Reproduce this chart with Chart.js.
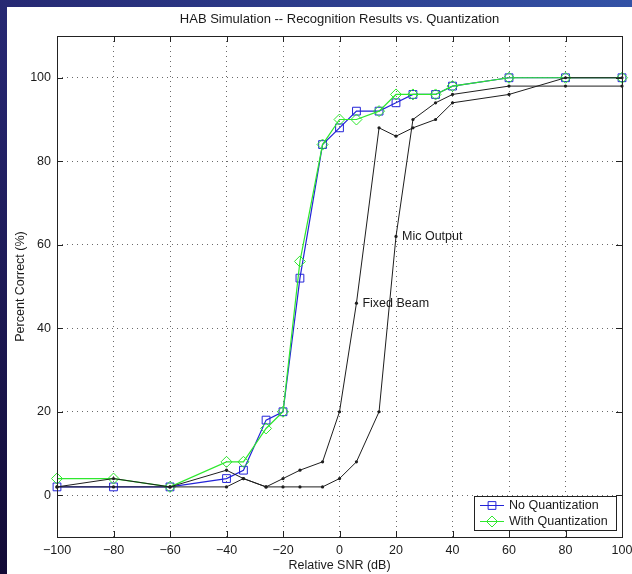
<!DOCTYPE html>
<html>
<head>
<meta charset="utf-8">
<script src="https://cdn.jsdelivr.net/npm/chart.js@4"></script>
<style>
  html, body { margin: 0; padding: 0; background: #1c1850; }
  canvas { display: block; }
</style>
</head>
<body>
<canvas id="c" width="632" height="574"></canvas>
<script>
// ---- data ----
const snr        = [-100, -80, -60, -40, -34, -26, -20, -14, -6, 0, 6, 14, 20, 26, 34, 40, 60, 80, 100];
const noQuant    = [2, 2, 2, 4, 6, 18, 20, 52, 84, 88, 92, 92, 94, 96, 96, 98, 100, 100, 100];
const withQuant  = [4, 4, 2, 8, 8, 16, 20, 56, 84, 90, 90, 92, 96, 96, 96, 98, 100, 100, 100];
const fixedBeam  = [2, 4, 2, 6, 4, 2, 4, 6, 8, 20, 46, 88, 86, 88, 90, 94, 96, 100, 100];
const micOutput  = [2, 2, 2, 2, 4, 2, 2, 2, 2, 4, 8, 20, 62, 90, 94, 96, 98, 98, 98];
const xTicks     = [-100, -80, -60, -40, -20, 0, 20, 40, 60, 80, 100];
const yTicks     = [0, 20, 40, 60, 80, 100];
const titleText  = 'HAB Simulation -- Recognition Results vs. Quantization';
const xLabel     = 'Relative SNR (dB)';
const yLabel     = 'Percent Correct (%)';
const seriesNames = ['No Quantization', 'With Quantization'];
const annotations = [
  { text: 'Fixed Beam', series: 'fixed', x: 6 },
  { text: 'Mic Output', series: 'mic', x: 20 }
];

const FONT = "'Liberation Sans', Arial, Helvetica, sans-serif";
const TXT = '#1a1a1a';
const BLUE = '#2323d8';
const GREEN = '#2ee82e';
const BLACK = '#1e1e1e';
const DIAMOND_R = 5.5;
const SQUARE_R = 5.5;

const pts = ys => snr.map((x, i) => ({ x: x, y: ys[i] }));
const fmt = v => (v < 0 ? '\u2212' + Math.abs(v) : String(v));

const framePlugin = {
  id: 'frame',
  beforeDraw(chart) {
    const ctx = chart.ctx, W = chart.width, H = chart.height;
    ctx.save();
    const g = ctx.createLinearGradient(0, H, W, 0);
    g.addColorStop(0, '#120a35');
    g.addColorStop(0.4, '#25256e');
    g.addColorStop(1, '#3352a6');
    ctx.fillStyle = g;
    ctx.fillRect(0, 0, W, H);
    ctx.fillStyle = '#ffffff';
    ctx.fillRect(7, 7, W - 7, H - 7);
    ctx.restore();
  },
  afterDraw(chart) {
    const ctx = chart.ctx, a = chart.chartArea;
    const xs = chart.scales.x, ys = chart.scales.y;
    ctx.save();
    // box
    ctx.strokeStyle = '#222';
    ctx.lineWidth = 1;
    ctx.strokeRect(Math.round(a.left) + 0.5, Math.round(a.top) + 0.5,
                   Math.round(a.right - a.left), Math.round(a.bottom - a.top));
    // inward ticks
    ctx.beginPath();
    xTicks.forEach(v => {
      const px = Math.round(xs.getPixelForValue(v)) + 0.5;
      ctx.moveTo(px, a.bottom); ctx.lineTo(px, a.bottom - 6);
      ctx.moveTo(px, a.top); ctx.lineTo(px, a.top + 6);
    });
    yTicks.forEach(v => {
      const py = Math.round(ys.getPixelForValue(v)) + 0.5;
      ctx.moveTo(a.left, py); ctx.lineTo(a.left + 6, py);
      ctx.moveTo(a.right, py); ctx.lineTo(a.right - 6, py);
    });
    ctx.stroke();

    // title
    ctx.fillStyle = TXT;
    ctx.font = '13px ' + FONT;
    ctx.textAlign = 'center';
    ctx.textBaseline = 'middle';
    ctx.fillText(titleText, (a.left + a.right) / 2, 19);

    // annotations
    ctx.font = '12.5px ' + FONT;
    ctx.textAlign = 'left';
    annotations.forEach(an => {
      const arr = an.series === 'fixed' ? fixedBeam : micOutput;
      const idx = snr.indexOf(an.x);
      const px = xs.getPixelForValue(an.x);
      const py = ys.getPixelForValue(arr[idx]);
      ctx.fillText(an.text, px + 6, py + 0.5);
    });

    // legend
    const lx = 474, ly = 496, lw = 142, lh = 34;
    ctx.fillStyle = '#fff';
    ctx.fillRect(lx, ly, lw, lh);
    ctx.strokeStyle = '#222';
    ctx.strokeRect(lx + 0.5, ly + 0.5, lw, lh);
    const rows = [
      { name: seriesNames[0], color: BLUE, style: 'rect', r: SQUARE_R, y: ly + 9.5 },
      { name: seriesNames[1], color: GREEN, style: 'rectRot', r: DIAMOND_R, y: ly + 25.5 }
    ];
    rows.forEach(row => {
      ctx.strokeStyle = row.color;
      ctx.lineWidth = 1;
      ctx.beginPath();
      ctx.moveTo(480, row.y); ctx.lineTo(504, row.y);
      ctx.stroke();
      ctx.fillStyle = 'rgba(0,0,0,0)';
      Chart.helpers.drawPoint(ctx, { pointStyle: row.style, radius: row.r, borderWidth: 1, rotation: 0 }, 492, row.y);
      ctx.fillStyle = TXT;
      ctx.font = '12.5px ' + FONT;
      ctx.textAlign = 'left';
      ctx.textBaseline = 'middle';
      ctx.fillText(row.name, 509, row.y + 0.5);
    });
    ctx.restore();
  }
};

const tickFont = { family: FONT, size: 12.5 };

new Chart(document.getElementById('c'), {
  type: 'line',
  data: {
    datasets: [
      { label: 'Fixed Beam', data: pts(fixedBeam), borderColor: BLACK, borderWidth: 1,
        pointRadius: 1.6, pointBackgroundColor: BLACK, pointBorderColor: BLACK, pointBorderWidth: 0,
        tension: 0, clip: false, order: 0 },
      { label: 'Mic Output', data: pts(micOutput), borderColor: BLACK, borderWidth: 1,
        pointRadius: 1.6, pointBackgroundColor: BLACK, pointBorderColor: BLACK, pointBorderWidth: 0,
        tension: 0, clip: false, order: 0 },
      { label: seriesNames[1], data: pts(withQuant), borderColor: GREEN, borderWidth: 1.2,
        pointStyle: 'rectRot', pointRadius: DIAMOND_R, pointBorderColor: GREEN, pointBorderWidth: 1,
        pointBackgroundColor: 'rgba(0,0,0,0)', tension: 0, clip: false, order: 1 },
      { label: seriesNames[0], data: pts(noQuant), borderColor: BLUE, borderWidth: 1.2,
        pointStyle: 'rect', pointRadius: SQUARE_R, pointBorderColor: BLUE, pointBorderWidth: 1,
        pointBackgroundColor: 'rgba(0,0,0,0)', tension: 0, clip: false, order: 2 }
    ]
  },
  options: {
    responsive: false,
    animation: false,
    events: [],
    layout: { padding: { top: 36, right: 10, left: 0, bottom: 0 } },
    plugins: { legend: { display: false }, title: { display: false }, tooltip: { enabled: false } },
    scales: {
      x: {
        type: 'linear', min: -100, max: 100,
        afterBuildTicks(s) { s.ticks = xTicks.map(v => ({ value: v })); },
        afterFit(s) { s.height = 37; s.paddingLeft = 0; s.paddingRight = 0; },
        ticks: { padding: 6, color: TXT, font: tickFont, maxRotation: 0, autoSkip: false,
                 callback: v => fmt(v) },
        grid: { color: '#6a6a6a', lineWidth: 1, drawTicks: false, borderDash: [1, 4] },
        border: { display: false, dash: [1, 4] },
        title: { display: true, text: xLabel, color: TXT, font: tickFont, padding: { top: 0, bottom: 0.5 } }
      },
      y: {
        type: 'linear', min: -10, max: 110,
        afterBuildTicks(s) { s.ticks = yTicks.map(v => ({ value: v })); },
        afterFit(s) { s.width = 57; s.paddingTop = 0; s.paddingBottom = 0; },
        ticks: { padding: 6, color: TXT, font: tickFont, callback: v => fmt(v) },
        grid: { color: '#6a6a6a', lineWidth: 1, drawTicks: false, borderDash: [1, 4] },
        border: { display: false, dash: [1, 4] },
        title: { display: true, text: yLabel, color: TXT, font: tickFont, padding: { top: 13.5, bottom: 0 } }
      }
    }
  },
  plugins: [framePlugin]
});
</script>
</body>
</html>
